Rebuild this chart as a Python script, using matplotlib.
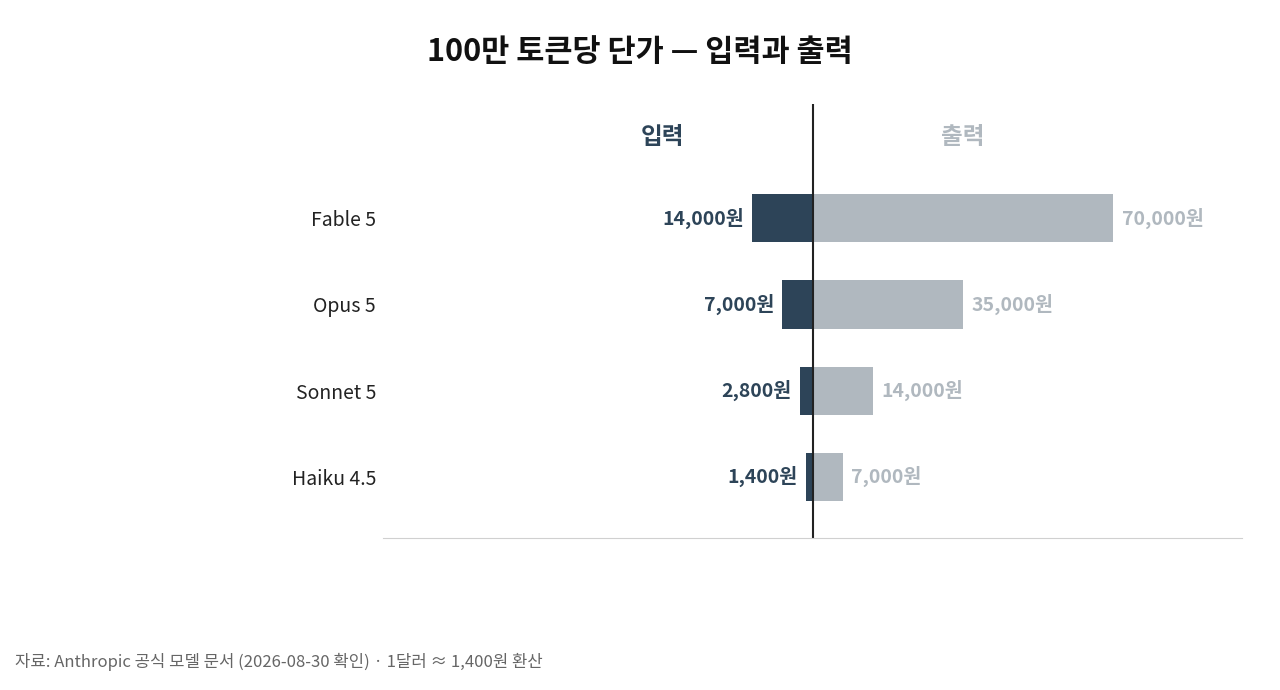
import matplotlib
matplotlib.use("Agg")
import matplotlib.pyplot as plt

plt.rcParams['font.family'] = ['Noto Sans CJK KR', 'DejaVu Sans']

models = ["Fable 5", "Opus 5", "Sonnet 5", "Haiku 4.5"]
input_price = [14000, 7000, 2800, 1400]
output_price = [70000, 35000, 14000, 7000]

dark = "#2d4458"
gray = "#b0b8bf"

fig = plt.figure(figsize=(12.8, 6.9), dpi=100)
ax = fig.add_axes([383/1280, 152/690, 859/1280, 434/690])
y = list(range(len(models)))
ax.barh(y, [-v for v in input_price], height=0.56, color=dark)
ax.barh(y, output_price, height=0.56, color=gray)
for yi, a, b in zip(y, input_price, output_price):
    ax.text(-a - 2000, yi, f"{a:,}원", ha="right", va="center", fontsize=14, fontweight="bold", color=dark)
    ax.text(b + 2000, yi, f"{b:,}원", ha="left", va="center", fontsize=14, fontweight="bold", color=gray)
ax.set_xlim(-100000, 100000)
ax.set_ylim(3.709, -1.326)
ax.axvline(0, color="#222222", lw=1.5)
ax.text(-35000, -0.94, "입력", ha="center", va="center", fontsize=17, fontweight="bold", color=dark)
ax.text(35000, -0.94, "출력", ha="center", va="center", fontsize=17, fontweight="bold", color=gray)
ax.set_yticks(y)
ax.set_yticklabels(models, fontsize=14, color="#222222")
ax.tick_params(axis="y", length=0, pad=5)
ax.set_xticks([])
for s in ["top", "right", "left"]:
    ax.spines[s].set_visible(False)
ax.spines["bottom"].set_color("#d0d0d0")
fig.text(640/1280, 1 - 52/690, "100만 토큰당 단가 — 입력과 출력", ha="center", va="center",
         fontsize=22, fontweight="bold", color="#111111")
fig.text(15/1280, 1 - 662/690, "자료: Anthropic 공식 모델 문서 (2026-08-30 확인) · 1달러 ≈ 1,400원 환산",
         ha="left", va="center", fontsize=12, color="#666666")
fig.savefig("out.png", dpi=100)
